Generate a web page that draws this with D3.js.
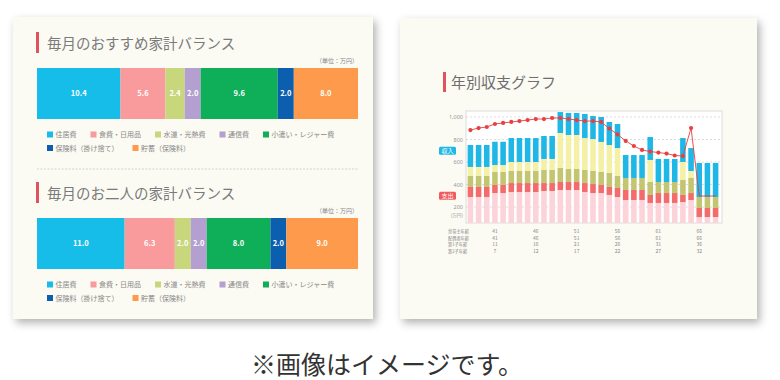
<!DOCTYPE html>
<html><head><meta charset="utf-8">
<script src="https://cdn.jsdelivr.net/npm/d3@7"></script>
<style>
html,body{margin:0;padding:0;background:#fff;}
svg{display:block;font-family:"Noto Sans CJK JP","Noto Sans",sans-serif;}
</style></head><body>
<svg id="c" width="780" height="380"></svg>
<script>
// ---------- data: monthly balance ----------
const balanceCategories = ["住居費","食費・日用品","水道・光熱費","通信費","小遣い・レジャー費","保険料（掛け捨て）","貯蓄（保険料）"];
const recommendedValues = [10.4, 5.6, 2.4, 2.0, 9.6, 2.0, 8.0];
const coupleValues = [11.0, 6.3, 2.0, 2.0, 8.0, 2.0, 9.0];
const balanceTitles = ["毎月のおすすめ家計バランス", "毎月のお二人の家計バランス"];
const unitLabel = "（単位：万円）";

// ---------- data: yearly chart ----------
const headAges = [38,39,40,41,42,43,44,45,46,47,48,49,50,51,52,53,54,55,56,57,58,59,60,61,62,63,64,65,66,67,68];
const baseLiving = [289,289,289,324,324,333,333,333,333,342,342,351,351,351,333,324,324,307,289,262,262,262,236,236,236,236,244,262,111,111,111];
const housing   = [89,89,89,72,72,80,80,80,80,71,71,71,71,71,80,80,72,71,80,89,89,89,71,88,88,88,63,62,80,80,80];
const education = [98,98,98,115,115,107,107,107,107,116,116,125,116,116,116,116,115,124,107,107,107,107,115,98,98,98,133,134,98,98,98];
const otherCost = [80,80,80,62,62,80,80,80,80,98,98,311,302,302,284,284,267,249,248,0,0,0,196,0,0,0,160,62,0,0,0];
const surplus   = [195,195,195,207,207,213,213,213,213,204,204,186,196,196,214,205,222,205,214,204,204,204,204,205,205,205,213,204,302,302,302];
const savingsLine = [884,902,911,938,947,956,964,973,982,982,991,991,982,973,964,964,956,897,845,787,742,707,693,684,675,658,653,902,298,298,298];
const savingsDotCount = 28;
const yTicks = [200,400,600,800,1000];
const tableRowLabels = ["世帯主年齢","配偶者年齢","第1子年齢","第2子年齢"];
const tableHeadAges = [41,46,51,56,61,66];
const tableSpouseAges = [41,46,51,56,61,66];
const tableChild1Ages = [11,16,21,26,31,36];
const tableChild2Ages = [7,12,17,22,27,32];
const chartTitle = "年別収支グラフ";
const incomeBadge = "収入", expenseBadge = "支出";
const caption = "※画像はイメージです。";

// ---------- styles ----------
const balanceColors = ["#16bde9","#f99a9d","#c8d67c","#b39fd0","#0fae58","#0c5fae","#fd9a4c"];
const stackColors = ["#fcd3d8","#f46b6c","#c3c571","#f4f1a6","#1fb7e6"];

const svg = d3.select("#c");
const defs = svg.append("defs");
const f = defs.append("filter").attr("id","sh").attr("x","-10%").attr("y","-10%").attr("width","125%").attr("height","125%");
f.append("feDropShadow").attr("dx",3).attr("dy",4).attr("stdDeviation",4).attr("flood-color","#000").attr("flood-opacity",0.3);

// cards
svg.append("rect").attr("x",13).attr("y",17).attr("width",360).attr("height",302).attr("fill","#fbfaf3").attr("filter","url(#sh)");
svg.append("rect").attr("x",400).attr("y",18).attr("width",357).attr("height",301).attr("fill","#fbfaf3").attr("filter","url(#sh)");

// ---------- left card ----------
function drawBalance(values, title, dy) {
  const g = svg.append("g").attr("transform", `translate(0,${dy})`);
  g.append("rect").attr("x",36).attr("y",32).attr("width",3).attr("height",21).attr("fill","#e0525e");
  g.append("text").attr("x",47).attr("y",49).attr("font-size",14.5).attr("fill","#7a7a7a").text(title);
  g.append("text").attr("x",358).attr("y",63).attr("text-anchor","end").attr("font-size",6).attr("fill","#888").text(unitLabel);
  const total = d3.sum(values);
  const x = d3.scaleLinear().domain([0,total]).range([37,358]);
  const cum = [0, ...d3.cumsum(values)];
  const segs = values.map((v,i)=>({v, x0:cum[i], x1:cum[i+1], c:balanceColors[i]}));
  g.selectAll("rect.seg").data(segs).join("rect").attr("class","seg")
    .attr("x",d=>x(d.x0)).attr("y",68).attr("width",d=>x(d.x1)-x(d.x0)).attr("height",51).attr("fill",d=>d.c);
  g.selectAll("text.val").data(segs).join("text").attr("class","val")
    .attr("x",d=>(x(d.x0)+x(d.x1))/2).attr("y",96).attr("text-anchor","middle")
    .attr("font-size",7.5).attr("font-weight","bold").attr("fill","#fff").text(d=>d.v.toFixed(1));
  // legend
  const rows = [[0,1,2,3,4],[5,6]];
  const rowY = [134.5, 148];
  rows.forEach((r,ri)=>{
    let cx = 47;
    r.forEach(i=>{
      g.append("rect").attr("x",cx).attr("y",rowY[ri]-3).attr("width",6).attr("height",6).attr("fill",balanceColors[i]);
      const t = g.append("text").attr("x",cx+8.5).attr("y",rowY[ri]+2.5).attr("font-size",7).attr("fill","#888").text(balanceCategories[i]);
      cx += 8.5 + t.node().getComputedTextLength() + 14;
    });
  });
}
drawBalance(recommendedValues, balanceTitles[0], 0);
drawBalance(coupleValues, balanceTitles[1], 150);
svg.append("line").attr("x1",37).attr("x2",358).attr("y1",169).attr("y2",169)
  .attr("stroke","#c8c8c8").attr("stroke-width",0.8).attr("stroke-dasharray","2,1.5");

// ---------- right card ----------
const rg = svg.append("g");
rg.append("rect").attr("x",443).attr("y",72).attr("width",3).attr("height",20).attr("fill","#e0525e");
rg.append("text").attr("x",451).attr("y",88).attr("font-size",15).attr("fill","#6e6e6e").text(chartTitle);

const box = {x0:466, x1:722, y0:111, y1:223};
rg.append("rect").attr("x",box.x0).attr("y",box.y0).attr("width",box.x1-box.x0).attr("height",box.y1-box.y0)
  .attr("fill","#fff").attr("stroke","#dcdcdc").attr("stroke-width",1);
defs.append("clipPath").attr("id","pc").append("rect")
  .attr("x",box.x0).attr("y",box.y0).attr("width",box.x1-box.x0).attr("height",box.y1-box.y0);

const xb = d3.scaleBand().domain(headAges).range([466,720]).paddingInner(0.32).paddingOuter(0.2);
const yl = d3.scaleLinear().domain([0,1000]).range([229.5,117]);

const plot = rg.append("g").attr("clip-path","url(#pc)");
// gridlines
plot.selectAll("line.grid").data(yTicks).join("line").attr("class","grid")
  .attr("x1",box.x0).attr("x2",box.x1).attr("y1",d=>yl(d)).attr("y2",d=>yl(d))
  .attr("stroke","#d4d4d4").attr("stroke-width",0.8).attr("stroke-dasharray","2,2");

const table = headAges.map((a,i)=>({age:a, s0:baseLiving[i], s1:housing[i], s2:education[i], s3:otherCost[i], s4:surplus[i]}));
const stack = d3.stack().keys(["s0","s1","s2","s3","s4"])(table);
plot.selectAll("g.layer").data(stack).join("g").attr("class","layer").attr("fill",(d,i)=>stackColors[i])
  .selectAll("rect").data(d=>d).join("rect")
  .attr("x",d=>xb(d.data.age)).attr("width",xb.bandwidth())
  .attr("y",d=>yl(d[1])).attr("height",d=>Math.max(0,yl(d[0])-yl(d[1])));

// savings line
const line = d3.line().x((d,i)=>xb(headAges[i])+xb.bandwidth()/2).y(d=>yl(d));
plot.append("path").attr("d",line(savingsLine)).attr("fill","none").attr("stroke","#e8403f").attr("stroke-width",0.9);
plot.selectAll("circle").data(savingsLine.slice(0,savingsDotCount)).join("circle")
  .attr("cx",(d,i)=>xb(headAges[i])+xb.bandwidth()/2).attr("cy",d=>yl(d)).attr("r",2.1).attr("fill","#e8403f");

// y axis labels
const ax = rg.append("g").attr("transform","translate(463,0)")
  .call(d3.axisLeft(yl).tickValues(yTicks).tickFormat(d3.format(",")).tickSize(0).tickPadding(0));
ax.select(".domain").remove();
ax.selectAll("text").attr("font-size",5.5).attr("fill","#999").attr("font-family","'Noto Sans',sans-serif");
rg.append("text").attr("x",463).attr("y",217).attr("text-anchor","end").attr("font-size",4.6).attr("fill","#999").text("(万円)");

// badges
[[incomeBadge,"#1fb7e6",yl(700)],[expenseBadge,"#f25a5e",yl(300)]].forEach(([t,c,cy])=>{
  rg.append("rect").attr("x",439).attr("y",cy-4).attr("width",17).attr("height",8).attr("rx",1.5).attr("fill",c);
  rg.append("text").attr("x",447.5).attr("y",cy+2.2).attr("text-anchor","middle").attr("font-size",6).attr("fill","#fff").text(t);
});

// age table
const tableRows = [tableHeadAges, tableSpouseAges, tableChild1Ages, tableChild2Ages];
tableRows.forEach((row,ri)=>{
  const y = 233 + ri*6.6;
  rg.append("text").attr("x",448).attr("y",y).attr("font-size",4.2).attr("fill","#888").text(tableRowLabels[ri]);
  row.forEach((v,ci)=>{
    rg.append("text").attr("x",xb(tableHeadAges[ci])+xb.bandwidth()/2).attr("y",y).attr("text-anchor","middle")
      .attr("font-size",5).attr("fill","#888").text(v);
  });
});

// caption
svg.append("text").attr("x",387).attr("y",374).attr("text-anchor","middle").attr("font-size",25)
  .attr("fill","#333").text(caption);
</script>
</body></html>
